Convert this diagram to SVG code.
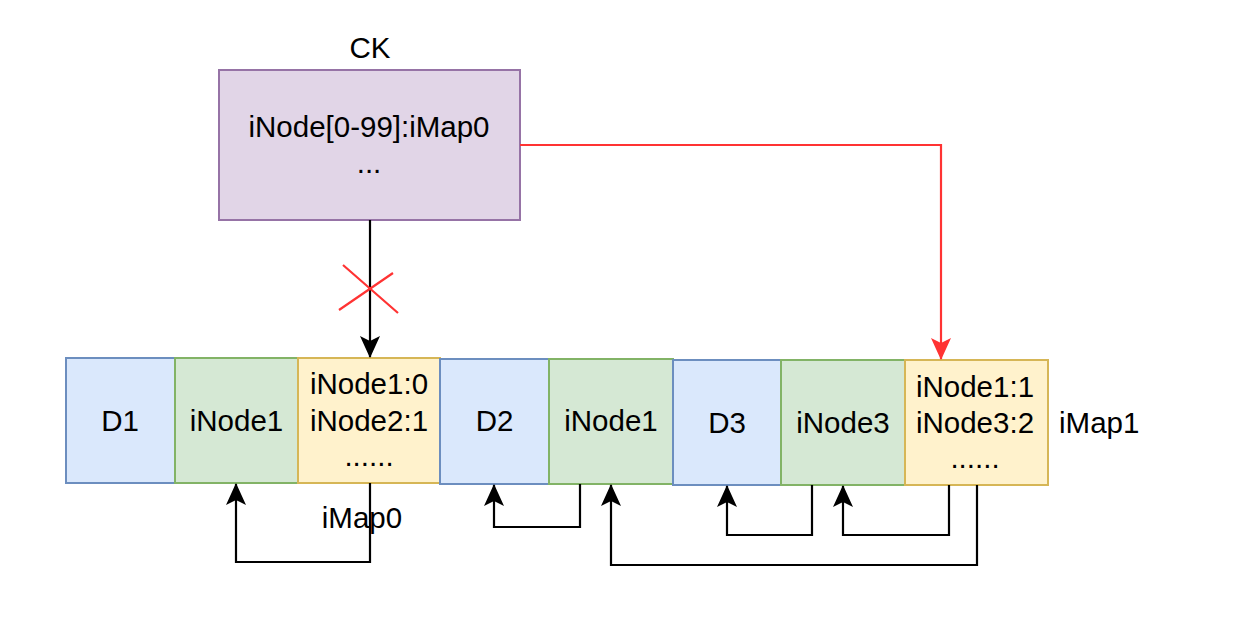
<svg xmlns="http://www.w3.org/2000/svg" width="1254" height="628" viewBox="0 0 1254 628">
<style>
text{font-family:"Liberation Sans",Arial,Helvetica,sans-serif;font-size:29.5px;fill:#000;text-anchor:middle}
.blue{fill:#dae8fc;stroke:#6c8ebf;stroke-width:2}
.green{fill:#d5e8d4;stroke:#82b366;stroke-width:2}
.yellow{fill:#fff2cc;stroke:#d6b656;stroke-width:2}
.purple{fill:#e1d5e7;stroke:#9673a6;stroke-width:2}
.conn{fill:none;stroke:#000;stroke-width:2.2}
.red{fill:none;stroke:#ff3333;stroke-width:2.2}
</style>
<defs>
<marker id="ab" markerUnits="userSpaceOnUse" markerWidth="22" markerHeight="22" viewBox="0 0 22 22" refX="21" refY="11" orient="auto">
<path d="M0,1 L22,11 L0,21 L5,11 Z" fill="#000" stroke="none"/>
</marker>
<marker id="ar" markerUnits="userSpaceOnUse" markerWidth="22" markerHeight="22" viewBox="0 0 22 22" refX="21" refY="11" orient="auto">
<path d="M0,1 L22,11 L0,21 L5,11 Z" fill="#ff3333" stroke="none"/>
</marker>
</defs>
<g id="ck">
<text x="370" y="58">CK</text>
<rect class="purple" x="219" y="70" width="301" height="150"/>
<text x="369" y="137">iNode[0-99]:iMap0</text>
<text x="369" y="173">...</text>
</g>
<g id="d1"><rect class="blue" x="66" y="358" width="109" height="125"/><text x="120" y="431">D1</text></g>
<g id="inode1a"><rect class="green" x="175" y="358" width="123" height="125"/><text x="236.5" y="431">iNode1</text></g>
<g id="imap0"><rect class="yellow" x="298" y="358" width="142" height="125"/><text x="369" y="394">iNode1:0</text><text x="369" y="431">iNode2:1</text><text x="369" y="466">......</text></g>
<g id="d2"><rect class="blue" x="440" y="359" width="109" height="125"/><text x="494.5" y="431">D2</text></g>
<g id="inode1b"><rect class="green" x="549" y="359" width="124" height="125"/><text x="611" y="431">iNode1</text></g>
<g id="d3"><rect class="blue" x="673" y="360" width="108" height="125"/><text x="727" y="433">D3</text></g>
<g id="inode3"><rect class="green" x="781" y="360" width="124" height="125"/><text x="843" y="433">iNode3</text></g>
<g id="imap1"><rect class="yellow" x="905" y="360" width="143" height="125"/><text x="975" y="397">iNode1:1</text><text x="975" y="433">iNode3:2</text><text x="975" y="468">......</text></g>
<g id="labels">
<text x="362" y="528">iMap0</text>
<text x="1059" y="433" style="text-anchor:start">iMap1</text>
</g>
<g id="connectors">
<path class="conn" d="M370,220 L370,357" marker-end="url(#ab)"/>
<path class="red" d="M343,265 L398,313 M339,310 L393,273"/>
<path class="red" d="M520,145 L941,145 L941,359" marker-end="url(#ar)"/>
<path class="conn" d="M370,483 L370,562 L236,562 L236,484" marker-end="url(#ab)"/>
<path class="conn" d="M580,484 L580,527 L494,527 L494,485" marker-end="url(#ab)"/>
<path class="conn" d="M977,485 L977,565 L611,565 L611,485" marker-end="url(#ab)"/>
<path class="conn" d="M812,485 L812,535 L727,535 L727,486" marker-end="url(#ab)"/>
<path class="conn" d="M949,485 L949,535 L843,535 L843,486" marker-end="url(#ab)"/>
</g>
</svg>
